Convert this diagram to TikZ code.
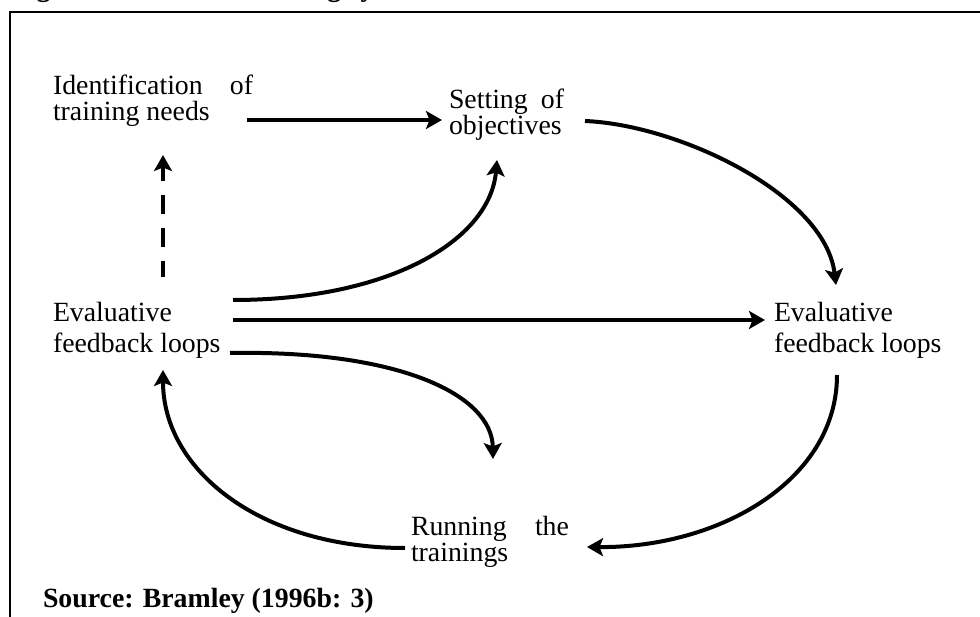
\documentclass[tikz,border=0pt]{standalone}
\usepackage{fontspec}
\setmainfont{Liberation Serif}
\usetikzlibrary{arrows.meta,calc}
% two lines of a label, the first line's baseline being the box baseline
\newcommand\twolines[3]{\vtop{\baselineskip=#1\relax\hbox{#2}\hbox{#3}}}

\begin{document}
\begin{tikzpicture}[x=1pt,y=-1pt,
  >={Stealth[length=16pt,width=18pt,inset=3.5pt]},
  lbl/.style={inner sep=0pt, outer sep=0pt, anchor=base west,
    font=\fontsize{27.8}{30}\selectfont},
  flow/.style={line width=4pt, line cap=butt, ->},
  ]
\useasboundingbox (0,0) rectangle (980,617);
\clip (0,0) rectangle (980,617);

% frame
\draw[line width=2.3pt] (10,12) rectangle (1000,680);

% caption line
\node[lbl, font=\fontsize{27.8}{30}\selectfont\bfseries] (title) at (12,-3)
  {Figure 2.1:\hspace{51pt}The training cycle};

% stages
\node[lbl] (idn) at (53,95)
  {\twolines{26pt}{\makebox[200pt][s]{Identification\hfill of}}{training needs}};
\node[lbl] (obj) at (449,109)
  {\twolines{26pt}{\makebox[115pt][s]{Setting\hfill of}}{objectives}};
\node[lbl] (evl) at (53,322)
  {\twolines{31pt}{Evaluative}{feedback loops}};
\node[lbl] (evr) at (774,322)
  {\twolines{31pt}{Evaluative}{feedback loops}};
\node[lbl] (run) at (411,535)
  {\twolines{26pt}{\makebox[158pt][s]{Running\hfill the}}{trainings}};

\node[lbl, font=\fontsize{27.8}{30}\selectfont\bfseries] (src) at (43,607)
  {Source: Bramley (1996b: 3)};

% connectors
\draw[flow] ([shift={(194,25)}]idn.base west) -- ([shift={(-7,11)}]obj.base west);
\draw[flow] ([shift={(136,12)}]obj.base west)
  .. controls (680,125) and (825,195) .. ([shift={(62,-37)}]evr.base west);
\draw[flow] ([shift={(180,-2)}]evl.base west) -- ([shift={(-9,-2)}]evr.base west);
\draw[flow] ([shift={(180,-22)}]evl.base west)
  .. controls (390,300) and (490,240) .. ([shift={(48,51)}]obj.base west);
\draw[flow] ([shift={(177,31)}]evl.base west)
  .. controls (400,350) and (492,395) .. ([shift={(82,-76)}]run.base west);
\draw[flow] ([shift={(63,53)}]evr.base west)
  .. controls (837,480) and (720,548) .. ([shift={(176,12)}]run.base west);
\draw[flow] ([shift={(-6,13)}]run.base west)
  .. controls (260,548) and (163,470) .. ([shift={(110,48)}]evl.base west);
% dashed link, drawn from the tip so the first dash meets the head
\draw[line width=4pt, line cap=butt, <-, dash pattern=on 14pt off 14pt on 19pt off 14pt on 19pt off 14pt on 16pt off 30pt]
  ([shift={(110,60)}]idn.base west) -- ([shift={(110,-43)}]evl.base west);
\end{tikzpicture}
\end{document}
